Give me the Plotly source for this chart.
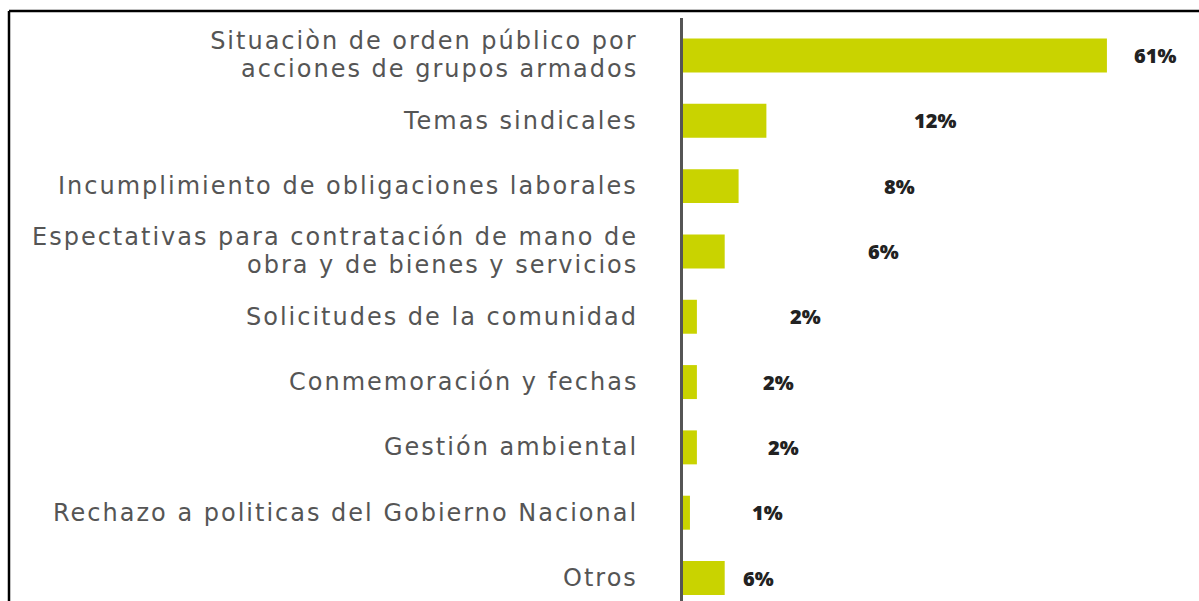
import plotly.graph_objects as go

categories = [
    "Situaciòn de orden público por<br>acciones de grupos armados",
    "Temas sindicales",
    "Incumplimiento de obligaciones laborales",
    "Espectativas para contratación de mano de<br>obra y de bienes y servicios",
    "Solicitudes de la comunidad",
    "Conmemoración y fechas",
    "Gestión ambiental",
    "Rechazo a politicas del Gobierno Nacional",
    "Otros",
]
values = [61, 12, 8, 6, 2, 2, 2, 1, 6]
value_labels = ["61%", "12%", "8%", "6%", "2%", "2%", "2%", "1%", "6%"]
# horizontal position of each value label (in axis units), as placed in the original
label_x = [67.9, 36.3, 31.2, 28.9, 17.6, 13.7, 14.5, 12.1, 10.8]

BAR_COLOR = "#c9d300"
TEXT_COLOR = "#555555"
LABEL_FONT = dict(family="DejaVu Sans", size=24, color=TEXT_COLOR)

fig = go.Figure()
fig.add_trace(go.Bar(
    x=values,
    y=categories,
    orientation="h",
    marker=dict(color=BAR_COLOR, line=dict(width=0)),
    width=0.52,
    hoverinfo="skip",
))

# category labels, right aligned left of the axis (line spacing kept tight)
for cat in categories:
    lines = cat.split("<br>")
    n = len(lines)
    for i, line in enumerate(lines):
        fig.add_annotation(
            x=0, y=cat, xref="paper", yref="y",
            text=line, showarrow=False, xanchor="right", yanchor="middle",
            xshift=-42, yshift=(n - 1) * 14 - i * 28,
            font=LABEL_FONT,
        )

for cat, lx, lab in zip(categories, label_x, value_labels):
    fig.add_annotation(
        x=lx, y=cat, xref="x", yref="y",
        text=lab, showarrow=False, xanchor="center", yanchor="middle",
        font=dict(family="Open Sans", size=20, color="#222222", weight=800),
    )

# frame lines (top and left edges of the original picture)
fig.add_shape(type="line", xref="paper", yref="paper",
              x0=(9 - 683) / 516, x1=1.05, y0=(601 - 11) / 583, y1=(601 - 11) / 583,
              line=dict(color="#000000", width=2.5))
fig.add_shape(type="line", xref="paper", yref="paper",
              x0=(9 - 683) / 516, x1=(9 - 683) / 516, y0=-0.05, y1=(601 - 11) / 583,
              line=dict(color="#000000", width=2.5))

fig.update_layout(
    width=1199, height=601,
    margin=dict(l=683, r=0, t=18, b=0),
    paper_bgcolor="white", plot_bgcolor="white",
    showlegend=False,
    xaxis=dict(range=[0, 74.25], visible=False, fixedrange=True),
    yaxis=dict(
        type="category",
        range=[8.352, -0.574],
        showline=True, linecolor="#555555", linewidth=3,
        showgrid=False, zeroline=False,
        showticklabels=False, ticks="", fixedrange=True,
    ),
)

post = (
    "document.body.style.margin='0';document.body.style.overflow='hidden';"
    "document.querySelectorAll('text.annotation-text').forEach(function(t){"
    "if((t.style.fontFamily||'').indexOf('DejaVu')>=0){"
    "var bb=t.getBBox();var right=bb.x+bb.width;"
    "t.style.letterSpacing='2px';t.setAttribute('text-anchor','end');"
    "t.setAttribute('x',right-1);}});"
)
fig.write_html("out.html", post_script=post, config={"displayModeBar": False})
